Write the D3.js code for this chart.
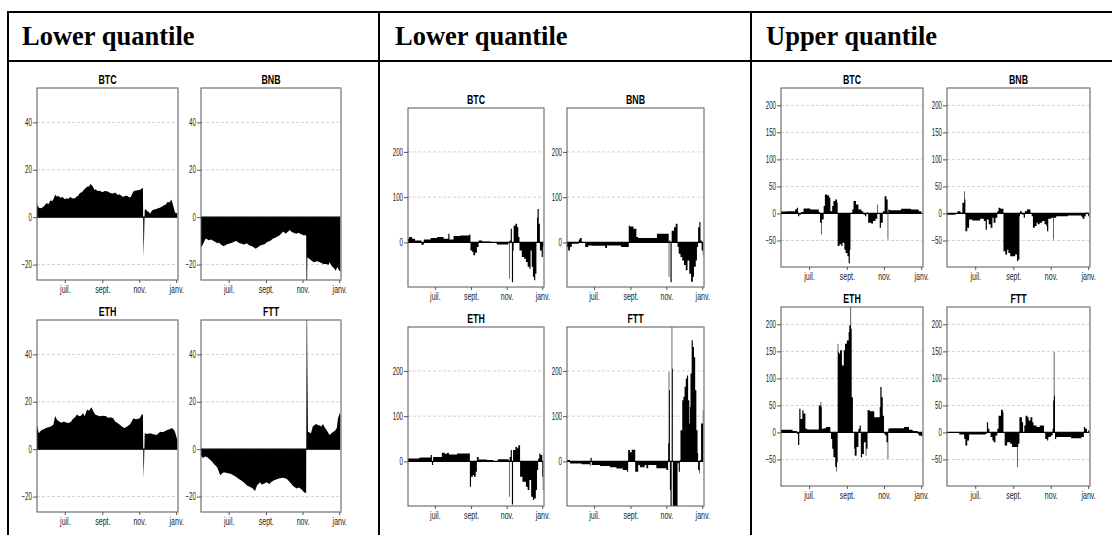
<!DOCTYPE html>
<html><head><meta charset="utf-8">
<script src="https://cdn.jsdelivr.net/npm/d3@7"></script>
<style>
body{margin:0;background:#fff;}
svg{display:block;}
</style></head><body>
<svg id="chart" width="1112" height="535"></svg>
<script>
// ---------- DATA ----------
const headers = ["Lower quantile", "Lower quantile", "Upper quantile"];
const assets = ["BTC", "BNB", "ETH", "FTT"];
const dateRange = ["05-16", "01-04"];
const monthTicks = ["07-01", "09-01", "11-01", "01-01"];
const monthLabels = ["juil.", "sept.", "nov.", "janv."];
const yTicks1 = [-20, 0, 20, 40];
const yTicks2 = [0, 100, 200];
const yTicks3 = [-50, 0, 50, 100, 150, 200];
const yDomain1 = [-26.5, 54.5];
const yDomain2 = [-98.5, 297];
const yDomain3 = [-99, 232];

// column 1 : lower quantile
const lq1BTC = [["05-16",5.5],["05-19",4],["05-23",3.8],["05-27",4.5],["06-01",6],["06-04",5.5],["06-07",7],["06-10",6.8],["06-12",7.5],["06-15",9.5],["06-18",8.6],["06-20",9],["06-24",8.2],["06-27",8.5],["07-01",7.6],["07-04",8],["07-07",7.8],["07-10",8.5],["07-14",7.9],["07-18",8],["07-20",8.6],["07-23",9],["07-26",10.2],["07-29",10.5],["08-01",11.4],["08-03",12],["08-06",12.6],["08-08",13],["08-10",12.8],["08-12",14],["08-14",13.6],["08-16",13],["08-19",11.5],["08-21",11.8],["08-24",11],["08-28",11.2],["09-01",10.5],["09-05",11],["09-10",10.8],["09-14",10.2],["09-19",10],["09-22",10.4],["09-26",9.5],["09-30",9.6],["10-05",8.5],["10-08",8.9],["10-12",9],["10-15",8.4],["10-18",8.5],["10-21",10.2],["10-23",11],["10-27",11.3],["11-01",11.5],["11-04",11.8],["11-07",12.5],["11-08",-17],["11-09",-8],["11-10",3],["11-12",3.4],["11-14",2.5],["11-17",2.2],["11-19",1.5],["11-21",2.4],["11-23",3],["11-26",3.2],["11-29",3.5],["12-02",3.8],["12-05",4],["12-08",4.4],["12-12",5],["12-15",5.4],["12-18",6.5],["12-21",6.2],["12-24",7.5],["12-27",5],["12-30",2],["01-04",1.5]];
const lq1BNB = [["05-16",-12.6],["05-18",-12],["05-20",-11],["05-22",-9.8],["05-24",-9],["05-29",-9.7],["06-02",-9.4],["06-06",-10],["06-09",-10.5],["06-12",-11],["06-15",-10.7],["06-18",-11.5],["06-20",-11.8],["06-23",-12.3],["06-26",-11.7],["06-28",-11.5],["07-01",-11.2],["07-04",-11],["07-07",-10.8],["07-09",-10.5],["07-12",-10.1],["07-14",-10],["07-17",-10.7],["07-20",-11],["07-23",-11.2],["07-26",-11.5],["07-29",-11.3],["07-31",-11],["08-03",-11.6],["08-06",-12],["08-09",-12.3],["08-11",-12.6],["08-15",-13.3],["08-18",-12.8],["08-22",-12],["08-25",-11.7],["08-28",-11.5],["08-31",-11.2],["09-02",-10.7],["09-05",-10.3],["09-08",-10],["09-11",-9.4],["09-13",-9],["09-16",-8.8],["09-18",-8.5],["09-21",-8],["09-24",-7.6],["09-27",-6.8],["09-30",-6],["10-02",-6.6],["10-04",-7],["10-07",-6.2],["10-11",-5.4],["10-13",-6],["10-16",-6.5],["10-19",-6.8],["10-22",-7],["10-25",-6.6],["10-28",-7],["10-31",-7.3],["11-02",-7.6],["11-07",-7.6],["11-08",-45],["11-09",-17],["11-11",-17.3],["11-13",-17.6],["11-16",-18.4],["11-20",-19],["11-25",-18.6],["11-30",-19],["12-03",-19.4],["12-06",-19.7],["12-11",-19.7],["12-14",-20.2],["12-16",-19],["12-18",-20],["12-21",-21],["12-24",-21.6],["12-26",-22.6],["12-29",-21],["01-01",-22.6],["01-04",-23]];
const lq1ETH = [["05-16",10],["05-19",6.7],["05-23",8],["05-27",8.4],["06-01",9],["06-04",9.3],["06-07",9.5],["06-10",10],["06-12",10.3],["06-15",14],["06-18",12.4],["06-20",12],["06-23",11.5],["06-26",11.2],["06-29",11.7],["07-03",11.3],["07-07",11],["07-11",11.6],["07-15",12.9],["07-18",13.5],["07-21",14.6],["07-23",14.2],["07-26",13.9],["07-29",14.4],["07-31",15.3],["08-03",13.9],["08-05",15.6],["08-07",16.7],["08-10",16.2],["08-14",17.7],["08-17",16],["08-20",14.6],["08-24",14.2],["08-28",13.9],["09-02",14.1],["09-07",13.9],["09-11",13.2],["09-14",13.5],["09-19",13.1],["09-22",11.7],["09-26",11],["09-30",10.3],["10-04",9.4],["10-08",8.9],["10-12",9.6],["10-16",10.3],["10-19",11.5],["10-22",12.9],["10-27",12.6],["11-02",13.1],["11-05",14.6],["11-07",14.6],["11-08",-12],["11-09",-5],["11-10",6.7],["11-14",6.4],["11-19",6.7],["11-24",6.3],["11-30",6],["12-03",6.8],["12-06",7.4],["12-10",7.1],["12-14",7.7],["12-17",8.1],["12-21",8.4],["12-25",8.9],["12-28",8.2],["12-30",7.4],["01-02",4.6],["01-04",3.9]];
const lq1FTT = [["05-16",-2.6],["05-19",-3.7],["05-23",-3.1],["05-26",-3.3],["06-01",-4.7],["06-04",-5.4],["06-06",-6.1],["06-09",-6.9],["06-12",-7.6],["06-14",-9],["06-17",-11],["06-20",-10.3],["06-23",-9.7],["06-28",-10],["07-04",-10.4],["07-09",-11],["07-13",-11.6],["07-18",-12.6],["07-22",-13.2],["07-26",-14],["08-01",-15.4],["08-06",-16],["08-10",-16.6],["08-14",-17.6],["08-17",-15.4],["08-22",-14],["08-25",-14.9],["08-28",-14.7],["09-02",-14],["09-07",-14.7],["09-10",-13.8],["09-13",-13.3],["09-18",-12.8],["09-24",-12.3],["09-30",-12.1],["10-06",-12.6],["10-11",-14],["10-16",-15.4],["10-22",-16.6],["10-26",-16.2],["10-30",-16.9],["11-04",-18.3],["11-07",-18.5],["11-08",80],["11-09",36],["11-10",7.4],["11-15",6.7],["11-18",9.6],["11-21",10.2],["11-24",10.6],["11-27",10.1],["11-30",10],["12-02",9.6],["12-05",10.6],["12-08",9.2],["12-11",8.1],["12-16",6],["12-19",6.6],["12-22",7.4],["12-25",7.8],["12-28",8.9],["12-30",13.1],["01-02",15.3],["01-04",14.6]];

// column 2 : lower quantile
const lq2BTC = [["05-16",8],["05-18",12],["05-23",8],["05-28",4.4],["06-04",4.4],["06-08",-5],["06-12",6.6],["06-24",9.5],["07-05",11.7],["07-16",8],["07-24",19],["07-26",6.6],["08-02",14],["08-14",15.4],["08-29",17.6],["08-31",-17.6],["09-03",-21],["09-05",-28.6],["09-08",-23],["09-11",-10],["09-14",4.4],["09-20",2.2],["10-04",-1.5],["10-15",-4.4],["11-01",-4.4],["11-04",-1.5],["11-05",-80],["11-06",4.4],["11-08",30],["11-10",-88],["11-12",-17.6],["11-13",37],["11-16",41],["11-19",33.7],["11-21",11.7],["11-23",-17.6],["11-27",-32],["12-01",-36],["12-04",-43],["12-07",-54],["12-10",-58],["12-12",-17.6],["12-14",-54],["12-16",-76],["12-18",-83.5],["12-20",-69],["12-22",0],["12-23",55],["12-24",74],["12-26",41],["12-28",-17.6],["12-31",-32],["01-02",-10],["01-04",-10]];
const lq2BNB = [["05-16",-10],["05-18",-17.6],["05-21",-10],["05-24",-3],["06-05",6.6],["06-07",10],["06-10",-1.5],["06-16",-10],["06-21",-6.6],["06-27",-7.3],["07-20",-12.5],["07-23",-6.6],["08-16",-10],["08-29",37],["08-31",35],["09-06",30],["09-11",11.7],["09-14",10],["10-13",10],["10-16",19],["11-04",19],["11-05",-76],["11-06",4.4],["11-08",-88],["11-10",26],["11-14",33.7],["11-17",41],["11-20",-10],["11-22",-25],["11-25",-32],["11-28",-40],["12-01",-50],["12-04",-61.5],["12-07",-40],["12-10",-69],["12-13",-87],["12-16",-76],["12-18",-54],["12-21",-40],["12-23",-10],["12-25",33.7],["12-27",45],["12-29",4.4],["12-31",-17.6],["01-02",-28.6],["01-04",-28.6]];
const lq2ETH = [["05-16",6.6],["06-04",8],["06-07",8.8],["06-24",14],["06-26",-8],["06-28",10],["07-11",10],["07-13",19],["07-18",17],["07-22",19],["07-25",15.4],["08-05",15.4],["08-08",17.6],["08-30",-56],["09-01",-34],["09-04",-30],["09-06",-34],["09-09",-23],["09-11",10],["09-14",4.4],["09-28",3],["10-09",-1.5],["10-17",5],["11-01",5],["11-04",3],["11-05",-78],["11-06",10],["11-08",25],["11-10",-95],["11-12",25],["11-16",32],["11-19",29],["11-21",36],["11-24",-34],["11-28",-45],["12-04",-56],["12-07",-63],["12-10",-41],["12-13",-78],["12-16",-85],["12-18",-82],["12-21",-63],["12-23",-19],["12-25",6.6],["12-27",17.6],["12-29",14],["01-01",-34],["01-02",-63],["01-04",-63]];
const lq2FTT = [["05-16",3],["05-21",-4.4],["06-10",-6],["06-24",-10],["06-25",8],["06-27",-8],["07-11",-10],["07-28",-13],["08-08",-15.4],["08-19",-19],["08-26",-23],["08-28",25],["08-31",20],["09-03",26],["09-09",-23],["09-14",-8],["09-17",-13],["09-25",-8],["09-28",-15],["10-01",-8],["10-15",-15],["11-01",-19],["11-04",40],["11-05",198],["11-06",157],["11-07",-63],["11-08",-100],["11-10",400],["11-11",205],["11-12",-100],["11-17",-110],["11-20",-4],["11-22",-23],["11-24",3],["11-25",69],["11-28",135],["11-30",143],["12-02",165],["12-04",183],["12-06",190],["12-08",135],["12-10",84],["12-11",120],["12-12",194],["12-14",268],["12-16",253],["12-18",230],["12-20",157],["12-22",69],["12-24",18],["12-25",-19],["12-27",-26],["12-28",3],["12-30",84],["01-02",113],["01-04",120]];

// column 3 : upper quantile
const uqBTC = [["05-16",3.7],["05-25",4.3],["06-06",3.7],["06-08",7.4],["06-11",10.5],["06-13",-5],["06-15",-2],["06-18",2.5],["06-22",9.3],["07-03",7.4],["07-14",7.4],["07-17",2.5],["07-19",-17],["07-21",-39],["07-22",-11],["07-25",13.6],["07-27",35],["07-31",33],["08-03",29],["08-05",4.3],["08-08",13.6],["08-10",23],["08-13",26],["08-16",19.8],["08-17",-60],["08-20",-57],["08-23",-60],["08-25",-54],["08-28",-67],["08-30",-73],["09-02",-79],["09-04",-92],["09-06",-67],["09-07",0],["09-10",7.4],["09-12",23],["09-16",16.7],["09-20",7.4],["09-25",4.3],["09-28",-2],["10-01",-5],["10-03",1.2],["10-06",-17],["10-11",-18.5],["10-14",-14],["10-18",-10],["10-21",16.7],["10-22",1],["10-25",-26.5],["10-27",-17],["10-30",4],["11-02",32],["11-05",26],["11-07",-48],["11-08",7.4],["11-10",6],["11-29",8.6],["12-15",7.4],["12-28",4.3],["01-01",1.2],["01-04",1.2]];
const uqBNB = [["05-16",-2.5],["05-30",0],["06-02",4.3],["06-07",1.2],["06-10",19.8],["06-13",41],["06-14",26],["06-15",-33],["06-18",-26.5],["06-21",-11],["06-26",-13],["07-09",-10],["07-15",-14],["07-18",-30],["07-20",-11],["07-23",-20],["07-26",-26.5],["07-29",-8],["07-31",-17],["08-03",-8],["08-06",4.3],["08-08",10.5],["08-11",8.6],["08-16",-70],["08-19",-76],["08-22",-67],["08-24",-73],["08-27",-79],["09-04",-76],["09-07",-88],["09-09",-85],["09-11",-5],["09-12",4.3],["09-15",-2],["09-18",-8],["09-20",4.3],["09-23",7.4],["09-29",0],["10-01",-5],["10-03",-26.5],["10-06",-23],["10-09",-17],["10-11",-20],["10-14",-17],["10-18",-14],["10-22",-20],["10-25",-23],["10-26",-33],["10-28",-10],["11-02",-8],["11-05",-48],["11-06",-8],["11-10",-5],["11-29",-3.7],["12-21",-6],["12-23",-10],["12-26",-5],["12-28",1.2],["01-01",-5],["01-04",-5]];
const uqETH = [["05-16",5],["06-01",5],["06-04",2.5],["06-11",-2.5],["06-13",-23],["06-15",44],["06-17",25],["06-20",41],["06-22",35],["06-25",7],["06-28",5.5],["07-17",50],["07-20",57],["07-21",47],["07-22",7],["07-25",8],["07-29",10],["08-05",0.6],["08-06",-12],["08-08",-30],["08-10",-46],["08-13",-64],["08-15",-72],["08-16",-55],["08-17",164],["08-18",149],["08-19",146],["08-21",152],["08-24",124],["08-27",152],["08-29",164],["09-01",170],["09-04",186],["09-05",198],["09-07",240],["09-08",192],["09-09",65],["09-11",0.6],["09-13",-30],["09-14",-43],["09-17",-27],["09-20",7],["09-22",13],["09-24",-46],["09-26",-40],["09-29",-18],["10-02",-43],["10-03",-30],["10-05",41],["10-09",39],["10-16",28],["10-25",47],["10-26",84],["10-28",65],["10-30",31],["11-01",-2.5],["11-03",-5.5],["11-05",-18],["11-07",-49],["11-08",7],["11-10",8],["12-04",10],["12-12",5],["12-18",2.5],["12-26",-2.5],["12-28",-5.5],["01-01",-7],["01-04",-7]];
const uqFTT = [["05-16",-1.2],["06-05",-3.7],["06-13",-12],["06-15",-24],["06-18",-15],["06-21",-3.7],["07-18",-2.5],["07-20",19],["07-22",7],["07-24",0.6],["07-26",-8.6],["07-29",-15],["07-31",-18],["08-03",-5.5],["08-06",7],["08-08",31],["08-12",42],["08-15",37.6],["08-16",0.6],["08-18",-24],["08-22",-18],["08-27",-21],["08-30",-27],["09-07",-64],["09-08",-27],["09-09",-21],["09-11",28],["09-15",19],["09-17",0.6],["09-19",13],["09-21",31],["09-24",28],["09-26",22],["09-29",28],["10-02",19],["10-04",13],["10-09",10],["10-14",13],["10-21",0.6],["10-23",-12],["10-26",-15],["10-28",-8.6],["11-01",-5.5],["11-04",7],["11-05",59],["11-06",149],["11-07",68],["11-08",-12],["11-10",-8.6],["12-04",-10.5],["12-21",-8.6],["12-25",10],["12-27",7],["12-30",0.6],["01-01",3.7],["01-04",3.7]];

// ---------- LAYOUT ----------
const parse = s => { const [m, d] = s.split("-").map(Number); return new Date(m >= 5 ? 2022 : 2023, m - 1, d); };
const columns = [
  {hx: 22,  series: [lq1BTC, lq1BNB, lq1ETH, lq1FTT], yDomain: yDomain1, yTicks: yTicks1, curve: d3.curveLinear,
   xs: [[37, 178], [201, 341]], ys: [[88, 280], [320, 512]]},
  {hx: 395, series: [lq2BTC, lq2BNB, lq2ETH, lq2FTT], yDomain: yDomain2, yTicks: yTicks2, curve: d3.curveStepAfter,
   xs: [[408, 544], [567, 704]], ys: [[108, 287], [327, 506]]},
  {hx: 766, series: [uqBTC, uqBNB, uqETH, uqFTT], yDomain: yDomain3, yTicks: yTicks3, curve: d3.curveStepAfter,
   xs: [[781, 923], [947, 1090]], ys: [[88, 267], [307, 486]]}
];

const svg = d3.select("#chart");
const FONT = "'Liberation Sans', Arial, sans-serif";
const SX = 0.62;

// table
const tbl = svg.append("g").attr("stroke", "#000").attr("stroke-width", 2);
tbl.append("line").attr("x1", 7).attr("x2", 1112).attr("y1", 12).attr("y2", 12);
tbl.append("line").attr("x1", 7).attr("x2", 1112).attr("y1", 61).attr("y2", 61);
[8, 379, 751].forEach(xv => tbl.append("line").attr("x1", xv).attr("x2", xv).attr("y1", 11).attr("y2", 535));

columns.forEach((col, ci) => {
  svg.append("text").attr("x", col.hx).attr("y", 45)
    .attr("font-family", "'Liberation Serif','Times New Roman',serif")
    .attr("font-weight", "bold").attr("font-size", 26.5).attr("fill", "#000")
    .text(headers[ci]);

  col.series.forEach((data, i) => {
    const [l, r] = col.xs[i % 2];
    const [t, b] = col.ys[Math.floor(i / 2)];
    const x = d3.scaleTime().domain(dateRange.map(parse)).range([l, r]);
    const y = d3.scaleLinear().domain(col.yDomain).range([b, t]);
    const g = svg.append("g");
    const cid = `clip${ci}_${i}`;
    g.append("clipPath").attr("id", cid).append("rect")
      .attr("x", l).attr("y", t).attr("width", r - l).attr("height", b - t);

    g.selectAll("line.grid").data(col.yTicks).join("line")
      .attr("x1", l).attr("x2", r).attr("y1", d => y(d)).attr("y2", d => y(d))
      .attr("stroke", "#c8c8c8").attr("stroke-width", 0.8).attr("stroke-dasharray", "3,2");

    const area = d3.area()
      .x(d => x(parse(d[0])))
      .y0(y(0)).y1(d => y(d[1]))
      .curve(col.curve);
    g.append("path").datum(data).attr("d", area)
      .attr("fill", "#000").attr("clip-path", `url(#${cid})`);
    g.append("line").attr("x1", l).attr("x2", r).attr("y1", y(0)).attr("y2", y(0))
      .attr("stroke", "#000").attr("stroke-width", 1.2);

    g.append("rect").attr("x", l).attr("y", t).attr("width", r - l).attr("height", b - t)
      .attr("fill", "none").attr("stroke", "#555").attr("stroke-width", 1);
    g.append("line").attr("x1", r).attr("x2", r).attr("y1", t).attr("y2", b)
      .attr("stroke", "#aaa").attr("stroke-width", 1.5);

    const ya = g.append("g").attr("transform", `translate(${l},0)`)
      .call(d3.axisLeft(y).tickValues(col.yTicks).tickSize(4).tickPadding(1).tickFormat(d3.format("d")));
    ya.select(".domain").remove();
    ya.selectAll("line").attr("stroke", "#555");
    ya.selectAll("text").attr("font-family", FONT).attr("font-size", 10).attr("fill", "#222")
      .attr("x", -5 / SX).attr("transform", `scale(${SX},1)`);

    const xa = g.append("g").attr("transform", `translate(0,${b})`)
      .call(d3.axisBottom(x).tickValues(monthTicks.map(parse)).tickSize(3).tickPadding(3)
        .tickFormat((d, k) => monthLabels[k]));
    xa.select(".domain").remove();
    xa.selectAll("line").attr("stroke", "#555");
    xa.selectAll("text").attr("font-family", FONT).attr("font-size", 10).attr("fill", "#222")
      .attr("transform", `scale(0.7,1)`);

    g.append("text").attr("transform", `translate(${(l + r) / 2},${t - 4}) scale(0.68,1)`)
      .attr("text-anchor", "middle").attr("font-family", FONT).attr("font-weight", "bold")
      .attr("font-size", 13).attr("fill", "#000").text(assets[i]);
  });
});
</script>
</body></html>
